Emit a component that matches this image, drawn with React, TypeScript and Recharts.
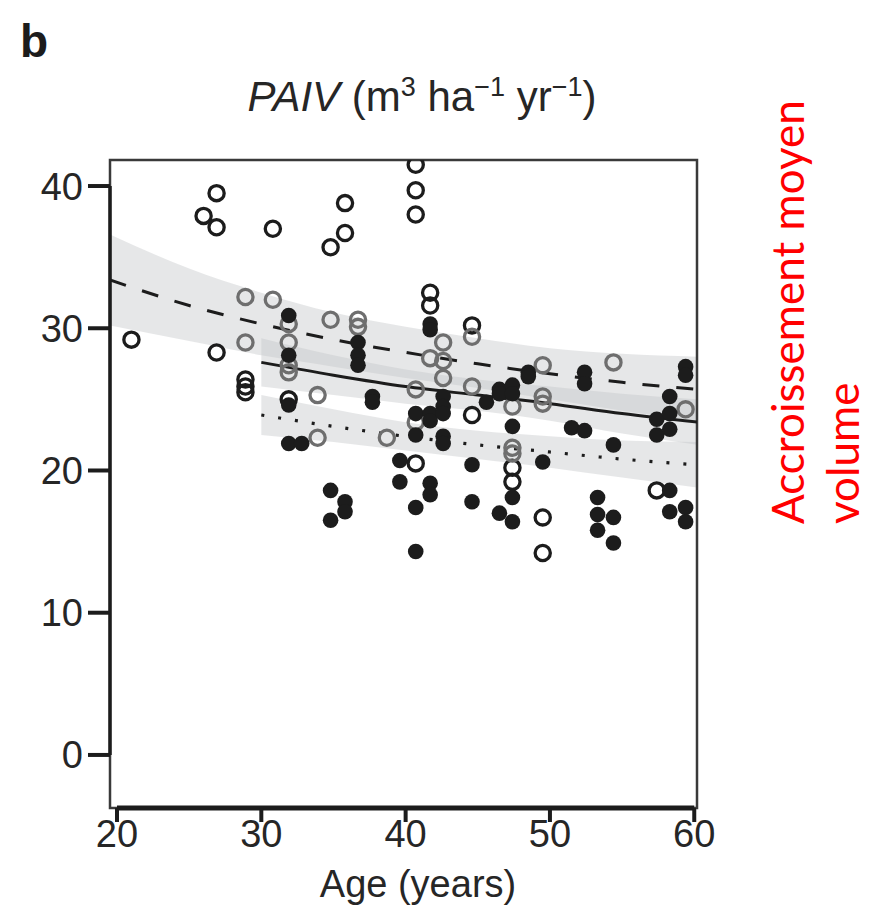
import React from 'react';
import { ComposedChart, XAxis, YAxis, Scatter, Line, Area, ReferenceArea, ReferenceLine } from 'recharts';

// ---- data (age in years, PAIV in m3 ha-1 yr-1) ----
const openBlack: [number, number][] = [
  [21.0, 29.2], [26.0, 37.9], [26.9, 39.5], [26.9, 37.1], [26.9, 28.3],
  [28.9, 26.4], [28.9, 25.9], [28.9, 25.5], [30.8, 37.0], [31.9, 25.0],
  [34.8, 35.7], [35.8, 36.7], [35.8, 38.8], [40.7, 41.5], [40.7, 39.7],
  [40.7, 38.0], [40.7, 20.5], [41.7, 32.5], [41.7, 31.6], [44.6, 30.2],
  [44.6, 23.9], [47.4, 20.2], [47.4, 19.2], [49.5, 16.7], [49.5, 14.2],
  [57.4, 18.6],
];

const openGrey: [number, number][] = [
  [28.9, 32.2], [28.9, 29.0], [30.8, 32.0], [31.9, 30.3], [31.9, 29.0],
  [31.9, 27.4], [31.9, 26.9], [33.9, 25.3], [33.9, 22.3], [34.8, 30.6],
  [36.7, 30.6], [36.7, 30.1], [38.7, 22.3], [40.7, 25.7], [40.7, 23.4],
  [41.7, 27.9], [42.6, 29.0], [42.6, 27.7], [42.6, 26.5], [44.6, 29.4],
  [44.6, 25.9], [47.4, 24.5], [47.4, 21.6], [47.4, 21.2], [49.5, 27.4],
  [49.5, 25.2], [49.5, 24.7], [54.4, 27.6], [59.4, 24.3],
];

const filled: [number, number][] = [
  [31.9, 30.9], [31.9, 28.1], [31.9, 24.6], [31.9, 21.9], [32.8, 21.9],
  [34.8, 18.6], [34.8, 16.5], [35.8, 17.8], [35.8, 17.1], [36.7, 29.0],
  [36.7, 28.1], [36.7, 27.4], [37.7, 25.2], [37.7, 24.8], [39.6, 20.7],
  [39.6, 19.2], [40.7, 24.0], [40.7, 22.5], [40.7, 17.4], [40.7, 14.3],
  [41.7, 30.3], [41.7, 29.9], [41.7, 24.0], [41.7, 23.5], [41.7, 19.1],
  [41.7, 18.3], [42.6, 25.2], [42.6, 24.5], [42.6, 24.0], [42.6, 22.4],
  [42.6, 21.9], [44.6, 20.4], [44.6, 17.8], [45.6, 24.8], [46.5, 25.7],
  [46.5, 25.4], [46.5, 17.0], [47.4, 26.0], [47.4, 25.4], [47.4, 23.1],
  [47.4, 18.1], [47.4, 16.4], [48.5, 26.9], [48.5, 26.6], [49.5, 20.6],
  [51.5, 23.0], [52.4, 26.9], [52.4, 26.1], [52.4, 22.8], [53.3, 18.1],
  [53.3, 16.9], [53.3, 15.8], [54.4, 21.8], [54.4, 16.7], [54.4, 14.9],
  [57.4, 23.6], [57.4, 22.5], [58.3, 25.2], [58.3, 24.0], [58.3, 22.9],
  [58.3, 18.6], [58.3, 17.1], [59.4, 27.3], [59.4, 26.7], [59.4, 17.4],
  [59.4, 16.4],
];

// fitted curves and confidence bands
const dashedAges = [19.5, 25, 30, 35, 40, 45, 50, 55, 60.2];
const dashedFit = [33.4, 31.6, 30.3, 29.2, 28.3, 27.5, 26.8, 26.2, 25.7];
const dashedLow = [30.2, 29.1, 28.1, 27.3, 26.5, 25.8, 25.0, 24.2, 23.5];
const dashedHigh = [36.6, 34.2, 32.5, 31.1, 30.1, 29.3, 28.6, 28.2, 28.0];

const fitAges = [30, 35, 40, 45, 50, 55, 60.2];
const solidFit = [27.6, 26.7, 25.9, 25.3, 24.7, 24.0, 23.4];
const solidLow = [25.9, 25.3, 24.7, 24.2, 23.5, 22.6, 21.8];
const solidHigh = [29.3, 28.1, 27.1, 26.4, 25.9, 25.4, 25.0];

const dottedFit = [23.9, 23.1, 22.4, 21.8, 21.3, 20.8, 20.4];
const dottedLow = [22.5, 22.0, 21.4, 20.8, 20.2, 19.5, 18.8];
const dottedHigh = [25.3, 24.3, 23.4, 22.8, 22.4, 22.1, 22.0];

const xTicks = [20, 30, 40, 50, 60];
const yTicks = [0, 10, 20, 30, 40];

const X_MIN = 19.515;
const X_MAX = 60.19;
const Y_MIN = -3.73;
const Y_MAX = 41.83;

const toPts = (arr: [number, number][]) => arr.map(([x, y]) => ({ x, y }));
const toLine = (ages: number[], vals: number[]) => ages.map((x, i) => ({ x, y: vals[i] }));
const toBand = (ages: number[], lo: number[], hi: number[]) =>
  ages.map((x, i) => ({ x, range: [lo[i], hi[i]] }));

const openShape = (color: string) => (props: any) => (
  <circle cx={props.cx} cy={props.cy} r={7.6} fill="none" stroke={color} strokeWidth={3.3} />
);
const filledShape = (props: any) => (
  <circle cx={props.cx} cy={props.cy} r={7.8} fill="#1c1c1c" />
);

const FONT = '"Liberation Sans", Arial, Helvetica, sans-serif';
const BAND = '#c4c6c8';

export default function App() {
  return (
    <div style={{ position: 'absolute', left: 0, top: 0, width: 873, height: 917, background: '#fff' }}>
      <ComposedChart
        width={873}
        height={917}
        margin={{ top: 160, right: 176, bottom: 49, left: 50 }}
      >
        <XAxis
          type="number"
          dataKey="x"
          domain={[X_MIN, X_MAX]}
          allowDataOverflow
          ticks={xTicks}
          height={60}
          axisLine={false}
          tickSize={14}
          tickMargin={-2}
          tickLine={{ stroke: '#1c1c1c', strokeWidth: 4 }}
          tick={{ fontSize: 38, fill: '#262626', fontFamily: FONT }}
        />
        <YAxis
          type="number"
          dataKey="y"
          domain={[Y_MIN, Y_MAX]}
          allowDataOverflow
          ticks={yTicks}
          width={60}
          axisLine={false}
          tickSize={22}
          tickMargin={5}
          tickLine={{ stroke: '#1c1c1c', strokeWidth: 4 }}
          tick={{ fontSize: 38, fill: '#262626', fontFamily: FONT }}
        />
        <Area data={toBand(dashedAges, dashedLow, dashedHigh)} dataKey="range" type="monotone"
          stroke="none" fill={BAND} fillOpacity={0.42} isAnimationActive={false} />
        <Area data={toBand(fitAges, solidLow, solidHigh)} dataKey="range" type="monotone"
          stroke="none" fill={BAND} fillOpacity={0.42} isAnimationActive={false} />
        <Area data={toBand(fitAges, dottedLow, dottedHigh)} dataKey="range" type="monotone"
          stroke="none" fill={BAND} fillOpacity={0.42} isAnimationActive={false} />
        <Scatter data={toPts(openBlack)} dataKey="y" shape={openShape('#1c1c1c')} isAnimationActive={false} />
        <Scatter data={toPts(openGrey)} dataKey="y" shape={openShape('#6e6e6e')} isAnimationActive={false} />
        <Scatter data={toPts(filled)} dataKey="y" shape={filledShape} isAnimationActive={false} />
        <Line data={toLine(dashedAges, dashedFit)} dataKey="y" type="monotone" stroke="#1c1c1c"
          strokeWidth={3} strokeDasharray="17 17" dot={false} isAnimationActive={false} />
        <Line data={toLine(fitAges, solidFit)} dataKey="y" type="monotone" stroke="#1c1c1c"
          strokeWidth={3} dot={false} isAnimationActive={false} />
        <Line data={toLine(fitAges, dottedFit)} dataKey="y" type="monotone" stroke="#1c1c1c"
          strokeWidth={3.2} strokeDasharray="3 14" dot={false} isAnimationActive={false} />
        <ReferenceArea x1={X_MIN} x2={X_MAX} y1={Y_MIN} y2={Y_MAX} fill="none"
          stroke="#3a3a3a" strokeWidth={2.5} ifOverflow="visible" />
        <ReferenceLine segment={[{ x: 20, y: Y_MIN }, { x: 60, y: Y_MIN }]} stroke="#1c1c1c"
          strokeWidth={5} ifOverflow="visible" />
        <ReferenceLine segment={[{ x: X_MIN, y: 0 }, { x: X_MIN, y: 40 }]} stroke="#1c1c1c"
          strokeWidth={3.5} ifOverflow="visible" />
      </ComposedChart>
      <svg width={873} height={917} style={{ position: 'absolute', left: 0, top: 0, pointerEvents: 'none' }}>
        <text x={20} y={57} fontFamily={FONT} fontWeight="bold" fontSize={46} fill="#1c1c1c">b</text>
        <text x={422} y={111} textAnchor="middle" fontFamily={FONT} fontSize={42} fill="#262626">
          <tspan fontStyle="italic">PAIV</tspan>
          <tspan> (m</tspan>
          <tspan fontSize={27} dy={-15}>3</tspan>
          <tspan dy={15}> ha</tspan>
          <tspan fontSize={27} dy={-15}>−1</tspan>
          <tspan dy={15}> yr</tspan>
          <tspan fontSize={27} dy={-15}>−1</tspan>
          <tspan dy={15}>)</tspan>
        </text>
        <text x={418} y={897} textAnchor="middle" fontFamily={FONT} fontSize={38} fill="#262626">Age (years)</text>
        <text transform="translate(804 524) rotate(-90)" fontFamily="Lato, 'Open Sans', sans-serif" fontSize={44} fill="#ff0000">Accroissement moyen</text>
        <text transform="translate(859 524) rotate(-90)" fontFamily="Lato, 'Open Sans', sans-serif" fontSize={44} fill="#ff0000">volume</text>
      </svg>
    </div>
  );
}
